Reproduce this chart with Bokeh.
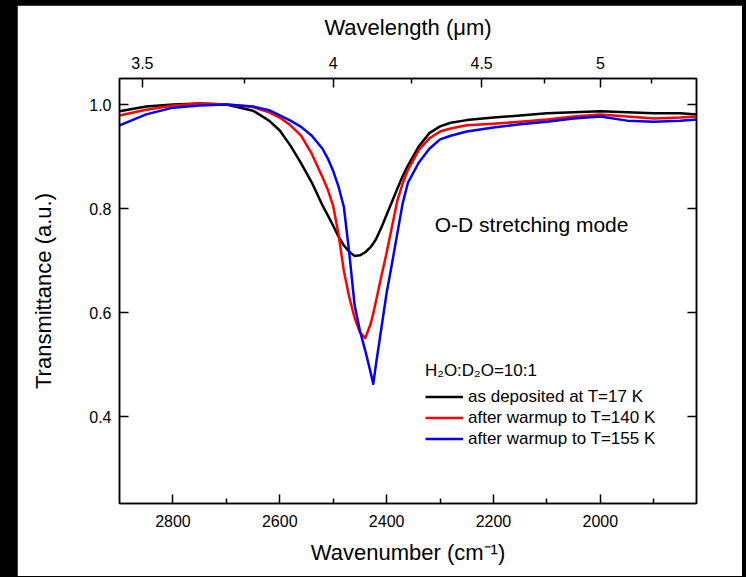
from bokeh.plotting import figure
from bokeh.models import (Range1d, LinearAxis, FixedTicker, CustomJSTickFormatter,
                          PrintfTickFormatter, Legend, LegendItem, Label,
                          GlobalInlineStyleSheet)
from bokeh.embed import file_html
from bokeh.resources import INLINE

# ---- data ----
wavenumber = [2900, 2850, 2800, 2750, 2700, 2650, 2620, 2600, 2580, 2560, 2540, 2520,
              2510, 2500, 2490, 2480, 2470, 2460, 2450, 2440, 2430, 2425, 2420, 2410,
              2400, 2390, 2380, 2370, 2360, 2340, 2320, 2300, 2280, 2250, 2200, 2150,
              2100, 2050, 2000, 1950, 1900, 1850, 1820]
t_17K = [0.987, 0.996, 1.000, 1.002, 1.000, 0.988, 0.969, 0.950, 0.921, 0.887, 0.850, 0.806,
         0.787, 0.767, 0.746, 0.729, 0.717, 0.709, 0.710, 0.716, 0.726, 0.733, 0.741, 0.763,
         0.788, 0.813, 0.838, 0.862, 0.883, 0.919, 0.945, 0.958, 0.965, 0.970, 0.975, 0.979,
         0.983, 0.985, 0.987, 0.985, 0.983, 0.983, 0.981]
t_140K = [0.979, 0.990, 0.998, 1.002, 1.000, 0.995, 0.985, 0.975, 0.960, 0.940, 0.905, 0.860,
          0.836, 0.805, 0.750, 0.680, 0.630, 0.590, 0.562, 0.551, 0.578, 0.598, 0.622, 0.669,
          0.715, 0.765, 0.815, 0.848, 0.875, 0.912, 0.935, 0.948, 0.954, 0.960, 0.963, 0.967,
          0.971, 0.977, 0.981, 0.977, 0.973, 0.975, 0.977]
t_155K = [0.960, 0.981, 0.994, 0.998, 1.000, 0.996, 0.989, 0.979, 0.969, 0.957, 0.940, 0.915,
          0.896, 0.872, 0.842, 0.803, 0.715, 0.615, 0.565, 0.527, 0.485, 0.463, 0.500, 0.569,
          0.638, 0.694, 0.752, 0.810, 0.850, 0.888, 0.915, 0.933, 0.940, 0.948, 0.956, 0.962,
          0.967, 0.973, 0.977, 0.969, 0.967, 0.969, 0.971]

series_labels = ["as deposited at T=17 K", "after warmup to T=140 K", "after warmup to T=155 K"]
series_colors = ["black", "#ff0000", "#0000ff"]

x_major = [2800, 2600, 2400, 2200, 2000]
x_minor = [2700, 2500, 2300, 2100, 1900]
wl_major = [3.5, 4, 4.5, 5]
wl_minor = [3.75, 4.25, 4.75, 5.25]
y_major = [0.4, 0.6, 0.8, 1.0]

FONT = "Liberation Sans"

p = figure(width=725, height=571, x_range=Range1d(2900, 1820), y_range=Range1d(0.233, 1.05),
           output_backend="svg", toolbar_location=None,
           x_axis_location=None, y_axis_location=None,
           min_border_left=102, min_border_right=46, min_border_top=73, min_border_bottom=73,
           margin=(5, 0, 0, 17))
p.xgrid.visible = False
p.ygrid.visible = False
p.outline_line_color = "black"
p.outline_line_width = 1.5
p.background_fill_color = "white"
p.border_fill_color = "white"
p.stylesheets = [GlobalInlineStyleSheet(css="html, body { background-color: #000; }")]


def style(ax, labels=True):
    ax.axis_line_color = "black"
    ax.axis_line_width = 1.5
    ax.major_tick_in = 9
    ax.major_tick_out = 0
    ax.minor_tick_in = 5
    ax.minor_tick_out = 0
    ax.major_tick_line_width = 1.5
    ax.minor_tick_line_width = 1.5
    ax.major_tick_line_color = "black"
    ax.minor_tick_line_color = "black"
    ax.major_label_text_font = FONT
    ax.major_label_text_font_size = "16px"
    ax.major_label_text_color = "black" if labels else None
    ax.axis_label_text_font = FONT
    ax.axis_label_text_font_style = "normal"
    ax.axis_label_text_font_size = "22px"
    ax.axis_label_text_color = "black"


bottom = LinearAxis(ticker=FixedTicker(ticks=x_major, minor_ticks=x_minor),
                    axis_label="Wavenumber (cm\u207b\u00b9)")
style(bottom)
bottom.major_label_standoff = 11
bottom.axis_label_standoff = 10
p.add_layout(bottom, "below")

top = LinearAxis(ticker=FixedTicker(ticks=[1e4 / w for w in wl_major],
                                    minor_ticks=[1e4 / w for w in wl_minor]),
                 formatter=CustomJSTickFormatter(code="return String(Math.round(1000000/tick)/100);"),
                 axis_label="Wavelength (\u03bcm)")
style(top)
top.major_label_standoff = 10
top.axis_label_standoff = 14
p.add_layout(top, "above")

left = LinearAxis(ticker=FixedTicker(ticks=y_major, minor_ticks=[]),
                  formatter=PrintfTickFormatter(format="%.1f"),
                  axis_label="Transmittance (a.u.)")
style(left)
left.major_label_standoff = 8
left.axis_label_standoff = 30
p.add_layout(left, "left")

right = LinearAxis(ticker=FixedTicker(ticks=y_major, minor_ticks=[]))
style(right, labels=False)
p.add_layout(right, "right")

renderers = []
for ys, c in zip([t_17K, t_140K, t_155K], series_colors):
    r = p.line(wavenumber, ys, line_color=c, line_width=2.5, line_join="round")
    renderers.append(r)

legend = Legend(items=[LegendItem(label=l, renderers=[r]) for l, r in zip(series_labels, renderers)],
                location=(306, 54), title="H\u2082O:D\u2082O=10:1")
legend.background_fill_alpha = 0
legend.border_line_color = None
legend.padding = 0
legend.margin = 0
legend.spacing = 0
legend.label_height = 21
legend.glyph_height = 21
legend.glyph_width = 38
legend.label_standoff = 5
legend.label_text_font = FONT
legend.label_text_font_size = "17px"
legend.label_text_color = "black"
legend.title_text_font = FONT
legend.title_text_font_size = "17px"
legend.title_text_font_style = "normal"
legend.title_text_color = "black"
legend.title_standoff = 5
p.add_layout(legend)

p.add_layout(Label(x=2310, y=0.769, text="O-D stretching mode", text_font=FONT,
                   text_font_size="21px", text_baseline="middle", text_align="left",
                   text_color="black"))

open("out.html", "w").write(file_html(p, INLINE))
